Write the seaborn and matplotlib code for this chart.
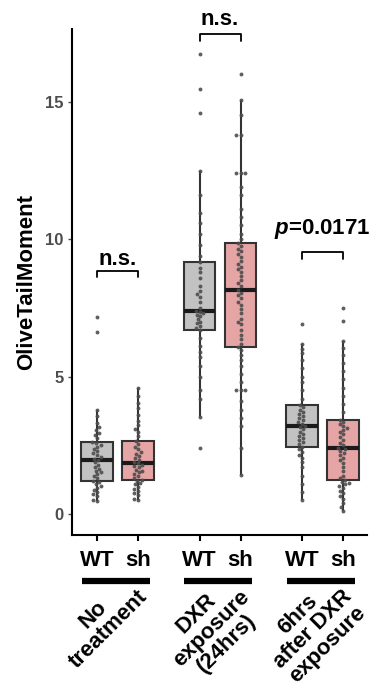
import numpy as np
import pandas as pd
import seaborn as sns
import matplotlib.pyplot as plt
from matplotlib import transforms

# Treatment groups, genotypes and where each box sits on the x axis
groups = ["No\ntreatment", "DXR\nexposure\n(24hrs)", "6hrs\nafter DXR\nexposure"]
genotypes = ["WT", "sh"]
positions = [0, 1, 2.5, 3.5, 5, 6]

# OliveTailMoment per comet
wt_none = [0.48, 0.52, 0.65, 0.72, 0.80, 0.88, 0.95, 1.02, 1.08, 1.15, 1.20,
           1.30, 1.38, 1.45, 1.52, 1.58, 1.65, 1.72, 1.80, 1.88, 1.96,
           2.02, 2.08, 2.15, 2.22, 2.30, 2.38, 2.45, 2.52, 2.58, 2.63,
           2.75, 2.88, 2.95, 3.05, 3.15, 3.30, 3.55, 3.80, 6.63, 7.15]
sh_none = [0.51, 0.55, 0.68, 0.75, 0.85, 0.92, 1.00, 1.08, 1.12, 1.20, 1.24,
           1.30, 1.38, 1.45, 1.52, 1.58, 1.62, 1.70, 1.75, 1.80, 1.84,
           1.90, 1.98, 2.05, 2.12, 2.20, 2.25, 2.35, 2.45, 2.55, 2.67,
           2.85, 3.00, 3.10, 3.25, 3.40, 3.60, 3.85, 4.05, 4.30, 4.57]
wt_dxr = [2.40, 3.54, 4.20, 4.50, 5.00, 5.40, 5.70, 5.90, 6.10, 6.40, 6.69,
          6.75, 6.85, 6.95, 7.00, 7.10, 7.20, 7.25, 7.30, 7.35, 7.39,
          7.50, 7.70, 7.90, 8.00, 8.10, 8.30, 8.60, 8.80, 8.95, 9.15,
          9.40, 9.80, 10.17, 10.57, 10.96, 11.62, 12.47, 14.60, 15.45, 16.75]
sh_dxr = [1.42, 2.40, 3.20, 3.50, 3.80, 4.10, 4.50, 4.50, 4.50, 4.80, 5.10,
          5.40, 5.60, 5.80, 5.95, 6.06,
          6.20, 6.35, 6.50, 6.70, 6.90, 7.00, 7.10, 7.30, 7.45, 7.60, 7.70,
          7.85, 7.95, 8.05, 8.15,
          8.30, 8.40, 8.50, 8.65, 8.80, 8.90, 9.00, 9.10, 9.20, 9.35, 9.45,
          9.55, 9.65, 9.75, 9.87,
          10.00, 10.20, 10.50, 10.80, 11.10, 11.60, 11.90, 12.40, 12.40, 12.40,
          13.80, 13.80, 14.50, 15.05, 16.00]
wt_after = [0.51, 0.80, 1.10, 1.40, 1.70, 1.90, 2.05, 2.15, 2.25, 2.35, 2.45,
            2.55, 2.62, 2.70, 2.78, 2.85, 2.92, 3.00, 3.08, 3.15, 3.20,
            3.28, 3.35, 3.42, 3.50, 3.58, 3.65, 3.72, 3.80, 3.88, 3.96,
            4.20, 4.50, 4.80, 5.00, 5.30, 5.60, 5.85, 6.00, 6.18, 6.93]
sh_after = [0.12, 0.25, 0.40, 0.55, 0.65, 0.75, 0.85, 0.95, 1.02, 1.08, 1.12,
            1.18, 1.24,
            1.30, 1.40, 1.55, 1.70, 1.85, 1.95, 2.05, 2.15, 2.22, 2.30, 2.35, 2.41,
            2.50, 2.60, 2.70, 2.80, 2.90, 2.98, 3.05, 3.12, 3.20, 3.28, 3.35, 3.44,
            3.70, 4.00, 4.30, 4.60, 4.90, 5.20, 5.50, 5.80, 6.05, 6.30, 7.03, 7.48]

# Significance labels per group
sig_labels = ["n.s.", "n.s.", "$p$=0.0171"]
bracket_y = [8.85, 17.45, 9.52]
label_y = [9.05, 17.8, 10.2]

series = [wt_none, sh_none, wt_dxr, sh_dxr, wt_after, sh_after]
rows = []
for i, vals in enumerate(series):
    for v in vals:
        rows.append({"pos": positions[i], "geno": genotypes[i % 2], "value": v})
df = pd.DataFrame(rows)

sns.set_style("ticks")
plt.rcParams['font.family'] = ['Liberation Sans', 'DejaVu Sans']
plt.rcParams['text.color'] = 'black'
plt.rcParams['axes.labelcolor'] = 'black'
plt.rcParams['mathtext.fontset'] = 'custom'
plt.rcParams['mathtext.it'] = 'Liberation Sans:italic:bold'
plt.rcParams['mathtext.rm'] = 'Liberation Sans:bold'

palette = {"WT": "#C2C2C2", "sh": "#F19A9A"}
edge = "#333333"

fig = plt.figure(figsize=(3.77, 6.83), dpi=100)
ax = fig.add_axes([0.191, 0.2167, 0.7825, 0.7408])

sns.boxplot(data=df, x="pos", y="value", hue="geno", palette=palette,
            native_scale=True, dodge=False, width=0.76, showfliers=False,
            linecolor=edge, linewidth=1.5, legend=False, ax=ax,
            medianprops={"linewidth": 3, "color": "#1a1a1a"},
            showcaps=False)
sns.swarmplot(data=df, x="pos", y="value", native_scale=True, color="#4d4d4d",
              size=2.8, alpha=0.9, ax=ax)

ax.set_xlim(-0.61, 6.585)
ax.set_ylim(-0.76, 17.64)
ax.set_yticks([0, 5, 10, 15])
ax.set_xticks(positions)
ax.set_xticklabels(genotypes * 3, fontsize=16, fontweight="bold", color="black")
ax.set_xlabel("")
ax.set_ylabel("OliveTailMoment", fontsize=16, fontweight="bold", labelpad=6,
              color="black")
ax.tick_params(axis="y", labelsize=12, colors="#4D4D4D", length=3, width=1, pad=3)
ax.tick_params(axis="x", length=4, width=1.5, color="black", pad=7)
for lab in ax.get_yticklabels():
    lab.set_fontweight("bold")
sns.despine(ax=ax)
for side in ["left", "bottom"]:
    ax.spines[side].set_linewidth(1.5)
    ax.spines[side].set_color("black")

# group bars and rotated group names under the WT/sh labels
trans = transforms.blended_transform_factory(ax.transData, ax.transAxes)
for g in range(3):
    wt, sh = positions[2 * g], positions[2 * g + 1]
    ax.plot([wt - 0.37, sh + 0.29], [-0.091, -0.091], transform=trans,
            color="black", lw=4.5, solid_capstyle="butt", clip_on=False)
    ax.text((wt + sh) / 2 + 0.1, -0.072, groups[g], transform=trans,
            rotation=45, rotation_mode="anchor", ha="right", va="top",
            multialignment="center", fontsize=16, fontweight="bold",
            linespacing=1.0, color="black")

    # significance brackets
    ax.plot([wt, wt, sh, sh],
            [bracket_y[g] - 0.23, bracket_y[g], bracket_y[g], bracket_y[g] - 0.23],
            color="black", lw=1.3, clip_on=False)
    ax.text((wt + sh) / 2, label_y[g], sig_labels[g], ha="center",
            va="baseline", fontsize=16, fontweight="bold", clip_on=False,
            color="black")

fig.savefig("out.png", dpi=100)
